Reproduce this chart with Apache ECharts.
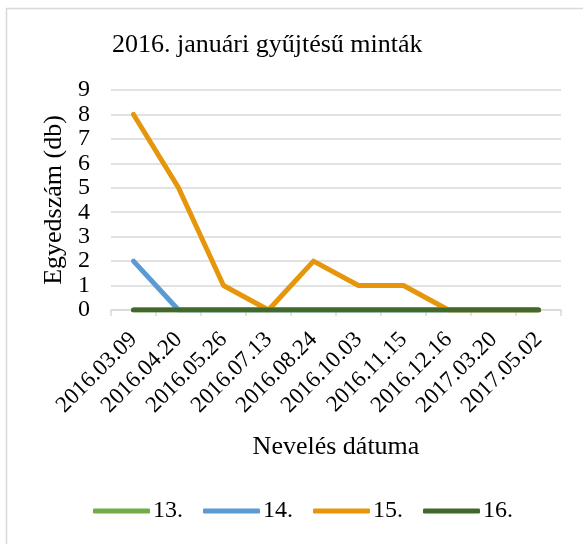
<!doctype html>
<html lang="hu">
  <head>
    <meta charset="UTF-8" />
    <title>2016. januári gyűjtésű minták</title>
    <script src="https://fastly.jsdelivr.net/npm/echarts@6/dist/echarts.min.js"></script>
    <style>
      * { margin: 0; padding: 0; }
      html, body, #chart { width: 100%; height: 100%; overflow: hidden; background: #fff; }
    </style>
  </head>
  <body>
    <div id="chart"></div>
    <script>
      const dates = ['2016.03.09', '2016.04.20', '2016.05.26', '2016.07.13', '2016.08.24',
        '2016.10.03', '2016.11.15', '2016.12.16', '2017.03.20', '2017.05.02'];
      const s13 = [0, 0, 0, 0, 0, 0, 0, 0, 0, 0];
      const s14 = [2, 0, 0, 0, 0, 0, 0, 0, 0, 0];
      const s15 = [8, 5, 1, 0, 2, 1, 1, 0, 0, 0];
      const s16 = [0, 0, 0, 0, 0, 0, 0, 0, 0, 0];

      const font = '"Liberation Serif", "DejaVu Serif", serif';

      function line(name, data, color) {
        return {
          name: name,
          type: 'line',
          data: data,
          symbol: 'none',
          lineStyle: { width: 5, color: color, cap: 'round', join: 'round' },
          itemStyle: { color: color }
        };
      }

      const chart = echarts.init(document.getElementById('chart'));
      chart.setOption({
        animation: false,
        textStyle: { fontFamily: font },
        graphic: [{
          type: 'rect',
          shape: { x: 6.5, y: 8.5, width: 600, height: 600 },
          style: { fill: 'none', stroke: '#d9d9d9', lineWidth: 1.5 },
          silent: true
        }],
        title: {
          text: '2016. januári gyűjtésű minták',
          left: 107,
          top: 27,
          textStyle: { fontFamily: font, fontSize: 26, fontWeight: 'normal', color: '#000' }
        },
        legend: {
          bottom: 16,
          left: 88,
          itemWidth: 57,
          itemHeight: 5,
          itemGap: 20,
          icon: 'roundRect',
          textStyle: { fontFamily: font, fontSize: 24, color: '#000', padding: [0, 0, 0, -2] },
          data: ['13.', '14.', '15.', '16.']
        },
        grid: { left: 111, right: 22, top: 90, bottom: 234, containLabel: false },
        xAxis: {
          type: 'category',
          data: dates,
          boundaryGap: true,
          name: 'Nevelés dátuma',
          nameLocation: 'middle',
          nameGap: 124,
          nameTextStyle: { fontFamily: font, fontSize: 26, color: '#000' },
          axisLine: { lineStyle: { color: '#d9d9d9', width: 1.5 } },
          axisTick: { show: true, length: 6, lineStyle: { color: '#d9d9d9', width: 1.5 } },
          axisLabel: { rotate: 45, fontFamily: font, fontSize: 23, color: '#000', margin: 26 }
        },
        yAxis: {
          type: 'value',
          min: 0,
          max: 9,
          interval: 1,
          name: 'Egyedszám (db)',
          nameLocation: 'middle',
          nameGap: 30,
          nameTextStyle: { fontFamily: font, fontSize: 26, color: '#000' },
          axisLine: { show: false },
          axisTick: { show: false },
          axisLabel: { fontFamily: font, fontSize: 24, color: '#000', margin: 21 },
          splitLine: { lineStyle: { color: '#d9d9d9', width: 1.5 } }
        },
        series: [
          line('13.', s13, '#70ad47'),
          line('14.', s14, '#5b9bd5'),
          line('15.', s15, '#e6960b'),
          line('16.', s16, '#43682b')
        ]
      });
    </script>
  </body>
</html>
